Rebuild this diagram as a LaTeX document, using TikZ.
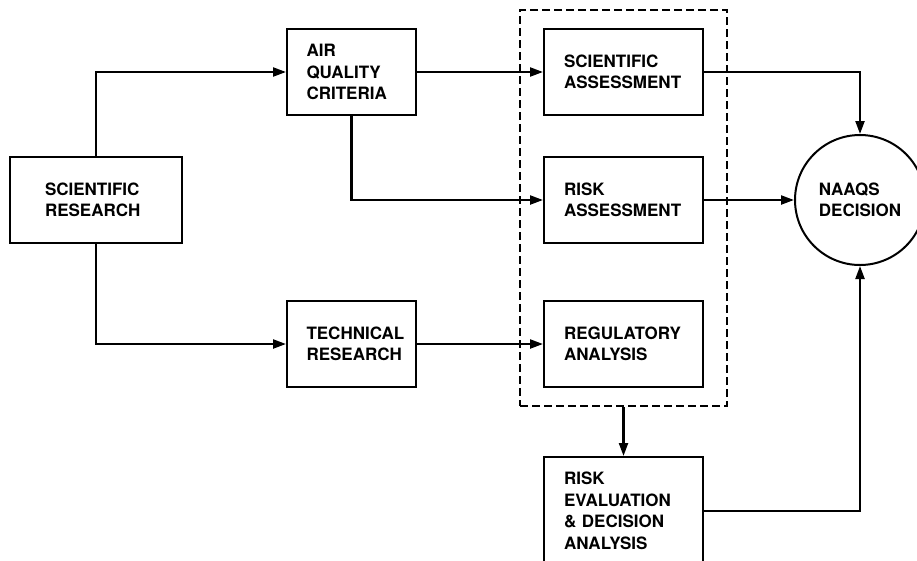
\documentclass[tikz,border=0pt]{standalone}
\usepackage{fontspec}
\setmainfont{TeX Gyre Heros}
\usetikzlibrary{positioning, arrows.meta, fit, calc}
\tikzset{
  blk/.style    = {draw, line width=2pt, align=left, inner xsep=20pt, text width=119pt,
                   minimum height=86pt, font=\fontsize{17pt}{21.5pt}\selectfont\bfseries},
  narrow/.style = {blk, inner xsep=19.5pt, text width=90pt},   % criteria / technical
  wide/.style   = {blk, inner xsep=35pt, text width=102pt},
  goal/.style   = {draw, circle, line width=2pt, minimum size=130pt, inner sep=0pt,
                   align=left, font=\fontsize{17pt}{21.5pt}\selectfont\bfseries},
  arrow/.style  = {-{Triangle[length=13pt, width=9pt]}, line width=2.2pt},
  group/.style  = {draw, dash pattern=on 8pt off 4pt, line width=2.4pt, inner xsep=23pt, inner ysep=18pt},
}

\begin{document}
\begin{tikzpicture}[x=1pt, y=-1pt]
  \useasboundingbox (0,0) rectangle (917,560);

  \node[wide]   at ( 96,   200) (sr)    {SCIENTIFIC\\RESEARCH};
  \node[narrow] at (351.5, 72)  (aqc)   {AIR\\QUALITY\\CRITERIA};
  \node[narrow] at (351.5, 344) (tr)    {TECHNICAL\\RESEARCH};

  \node[blk]    at (623.5, 72)  (sa)    {SCIENTIFIC\\ASSESSMENT};
  \node[blk]    at (623.5, 200) (ra)    {RISK\\ASSESSMENT};
  \node[blk]    at (623.5, 344) (reg)   {REGULATORY\\ANALYSIS};
  \node[blk, minimum height=108pt]
                at (623.5, 511) (red)   {RISK\\EVALUATION\\\& DECISION\\ANALYSIS};

  \node[goal]   at (860,   200) (naaqs) {NAAQS\\DECISION};

  \node[group, fit=(sa) (ra) (reg)] (stage) {};

  \draw[arrow] (sr.north)  |- (aqc.west);
  \draw[arrow] (sr.south)  |- (tr.west);
  \draw[arrow] (aqc.east)  -- (sa.west);
  \draw[arrow] (aqc.south) |- (ra.west);
  \draw[arrow] (tr.east)   -- (reg.west);
  \draw[arrow] (sa.east)   -| (naaqs.north);
  \draw[arrow] (ra.east)   -- (naaqs.west);
  \draw[arrow] (stage.south) -- (red.north);
  \draw[arrow] (red.east)  -| (naaqs.south);
\end{tikzpicture}
\end{document}
